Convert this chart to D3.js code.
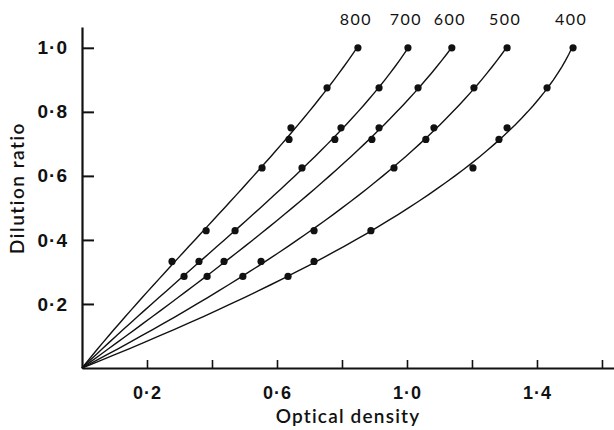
<!DOCTYPE html>
<html lang="en">
<head>
<meta charset="UTF-8">
<title>Dilution ratio vs optical density</title>
<script src="https://d3js.org/d3.v7.min.js"></script>
<style>
    body{margin:0;background:#fff;}
    svg{display:block;font-family:Lato,'Open Sans',sans-serif;}
    .axis path,.axis line{stroke:#111;}
    .axis text{fill:#111;}
</style>
</head>
<body>
<svg id="chart" width="614" height="430"></svg>
<script>
    // wavelength labels (nm) and read-off points: optical density / dilution ratio
    const labels = ['800','700','600','500','400'];
    const od800 = [0.277,0.382,0.554,0.637,0.643,0.754,0.849];
    const dr800 = [0.333,0.429,0.625,0.714,0.750,0.875,1.000];
    const od700 = [0.314,0.360,0.471,0.677,0.778,0.797,0.914,1.003];
    const dr700 = [0.286,0.333,0.429,0.625,0.714,0.750,0.875,1.000];
    const od600 = [0.385,0.437,0.892,0.914,1.034,1.138];
    const dr600 = [0.286,0.333,0.714,0.750,0.875,1.000];
    const od500 = [0.495,0.551,0.714,0.960,1.058,1.083,1.206,1.308];
    const dr500 = [0.286,0.333,0.429,0.625,0.714,0.750,0.875,1.000];
    const od400 = [0.634,0.714,0.889,1.203,1.283,1.308,1.431,1.511];
    const dr400 = [0.286,0.333,0.429,0.625,0.714,0.750,0.875,1.000];
    const xTicks = [0.2,0.4,0.6,0.8,1.0,1.2,1.4,1.6];
    const xLabelled = [0.2,0.6,1.0,1.4];
    const yTicks = [0.2,0.4,0.6,0.8,1.0];

    const ods = [od800,od700,od600,od500,od400];
    const drs = [dr800,dr700,dr600,dr500,dr400];
    const series = labels.map((l,i)=>({
        label:l,
        pts:ods[i].map((v,j)=>[v,drs[i][j]])
    }));

    // least squares od = a*r + b*r^2 + c*r^3 (curve through the origin)
    function fit(pts){
        const A=[[0,0,0],[0,0,0],[0,0,0]], B=[0,0,0];
        pts.forEach(([od,r])=>{
            const f=[r,r*r,r*r*r];
            for(let i=0;i<3;i++){
                B[i]+=f[i]*od;
                for(let j=0;j<3;j++) A[i][j]+=f[i]*f[j];
            }
        });
        // gaussian elimination
        for(let i=0;i<3;i++){
            for(let k=i+1;k<3;k++){
                const m=A[k][i]/A[i][i];
                for(let j=i;j<3;j++) A[k][j]-=m*A[i][j];
                B[k]-=m*B[i];
            }
        }
        const c=[0,0,0];
        for(let i=2;i>=0;i--){
            let s=B[i];
            for(let j=i+1;j<3;j++) s-=A[i][j]*c[j];
            c[i]=s/A[i][i];
        }
        return r=>c[0]*r+c[1]*r*r+c[2]*r*r*r;
    }

    const svg = d3.select('#chart');
    const x = d3.scaleLinear().domain([0,1.637]).range([82,614]);
    const y = d3.scaleLinear().domain([0,1.065]).range([368,27]);
    const fmt = d=>d.toFixed(1).replace('.','\u00B7');

    const xAxis = svg.append('g')
        .attr('class','axis')
        .attr('transform',`translate(0,${y(0)})`)
        .call(d3.axisBottom(x)
            .tickValues(xTicks)
            .tickSizeInner(-8)
            .tickSizeOuter(0)
            .tickPadding(18)
            .tickFormat(d=>xLabelled.some(v=>Math.abs(v-d)<1e-6)?fmt(d):''));
    xAxis.select('.domain').attr('stroke-width',2.2);
    xAxis.selectAll('.tick line').attr('stroke-width',1.6);
    xAxis.selectAll('text').attr('font-size',18).attr('font-weight',700).attr('letter-spacing',1);

    const yAxis = svg.append('g')
        .attr('class','axis')
        .attr('transform',`translate(${x(0)},0)`)
        .call(d3.axisLeft(y)
            .tickValues(yTicks)
            .tickSizeInner(-12)
            .tickSizeOuter(0)
            .tickPadding(14)
            .tickFormat(fmt));
    yAxis.select('.domain').attr('stroke-width',2.2);
    yAxis.selectAll('.tick line').attr('stroke-width',2);
    yAxis.selectAll('text').attr('font-size',19).attr('font-weight',700).attr('letter-spacing',1);

    const line = d3.line()
        .x(d=>x(d[0]))
        .y(d=>y(d[1]));

    const g = svg.selectAll('.series')
        .data(series)
        .join('g')
        .attr('class','series');

    g.append('path')
        .attr('d',d=>{
            const f=fit(d.pts);
            return line(d3.range(0,1.0001,0.02).map(r=>[f(r),r]));
        })
        .attr('fill','none')
        .attr('stroke','#111')
        .attr('stroke-width',1.4);

    g.selectAll('circle')
        .data(d=>d.pts)
        .join('circle')
        .attr('cx',d=>x(d[0]))
        .attr('cy',d=>y(d[1]))
        .attr('r',3.6)
        .attr('fill','#111');

    g.append('text')
        .text(d=>d.label)
        .attr('x',d=>x(d.pts[d.pts.length-1][0])-2)
        .attr('y',25)
        .attr('text-anchor','middle')
        .attr('font-size',16)
        .attr('letter-spacing',1.5)
        .attr('fill','#111');

    svg.append('text')
        .text('Optical density')
        .attr('x',348)
        .attr('y',423)
        .attr('text-anchor','middle')
        .attr('font-size',19)
        .attr('font-weight',600)
        .attr('letter-spacing',1.2)
        .attr('fill','#111');

    svg.append('text')
        .text('Dilution ratio')
        .attr('transform','translate(24,188) rotate(-90)')
        .attr('text-anchor','middle')
        .attr('font-size',19)
        .attr('font-weight',600)
        .attr('letter-spacing',1.5)
        .attr('fill','#111');
</script>
</body>
</html>
